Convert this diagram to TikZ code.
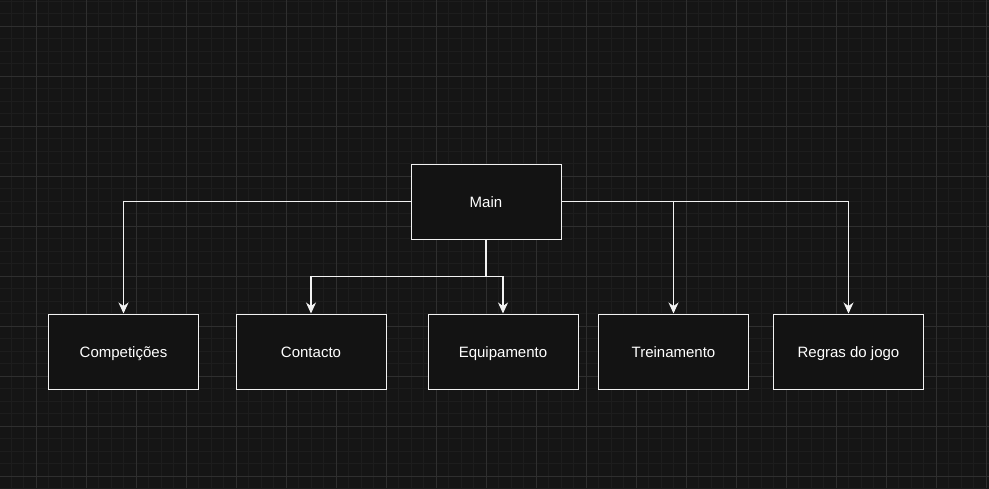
\documentclass[tikz,border=0pt]{standalone}
\usepackage{fontspec}
\setmainfont{Liberation Sans}
\usetikzlibrary{arrows.meta,positioning}
\definecolor{canvasFill}{HTML}{151515}
\definecolor{minorLine}{HTML}{1D1D1D}
\definecolor{majorLine}{HTML}{2F2F2F}
\definecolor{boxFill}{HTML}{131313}
\definecolor{boxStroke}{HTML}{F2F2F2}
\begin{document}
\begin{tikzpicture}[
  x=1pt,y=-1pt,
  font=\fontsize{15}{18}\selectfont,>={Stealth[length=11pt,width=10pt,inset=3.5pt]},
  page/.style={rectangle,draw=boxStroke,line width=1pt,fill=boxFill,text=white,minimum width=150pt,minimum height=75pt,align=center,inner sep=0pt,text height=12pt,text depth=0pt},
  minorgrid/.style={draw=minorLine,line width=0.8pt},
  majorgrid/.style={draw=majorLine,line width=0.8pt},
  link/.style={->,line width=1.2pt,draw=boxStroke}
]
\fill[canvasFill] (0,0) rectangle (989,488);
\useasboundingbox (0,0) rectangle (989,488);
% Background grid: a fine mesh with a stronger line every fourth step.
\foreach \gx in {-1.5,11,...,990} \draw[minorgrid] (\gx,0) -- (\gx,488);
\foreach \gy in {1,13.5,...,489} \draw[minorgrid] (0,\gy) -- (989,\gy);
\foreach \gx in {36,86,...,989} \draw[majorgrid] (\gx,0) -- (\gx,488);
\foreach \gy in {26,76,...,488} \draw[majorgrid] (0,\gy) -- (989,\gy);
\node[page] (main) at (486,201.5) {Main};
\node[page] (comp) at (123.5,351.5) {Competições};
\node[page] (contact) at (311,351.5) {Contacto};
\node[page] (equip) at (503,351.5) {Equipamento};
\node[page] (train) at (673.5,351.5) {Treinamento};
\node[page] (rules) at (848.5,351.5) {Regras do jogo};
\coordinate (split) at (486,276.5);
\draw[link] (main.west) -| (comp.north);
\draw[link] (main.south) -- (split) -| (contact.north);
\draw[link] (split) -| (equip.north);
\draw[link] (main.east) -| (train.north);
\draw[link] (main.east) -| (rules.north);
\end{tikzpicture}
\end{document}
